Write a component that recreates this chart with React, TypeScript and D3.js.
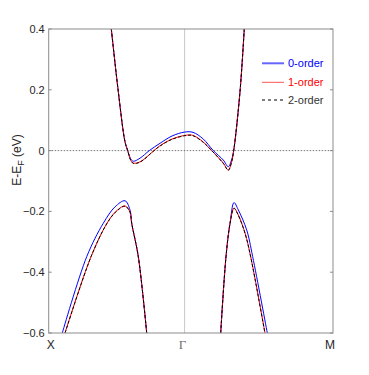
import React, { useRef, useEffect } from "react";
import * as d3 from "d3";

const width = 369;
const height = 375;
const margin = { top: 29, right: 36, bottom: 42, left: 48.7 };

// k along the path X-Γ-M (0..1), energies in eV
const kTicks = [0, 0.478, 1];
const kLabels = ["X", "Γ", "M"];
const yTicks = [-0.6, -0.4, -0.2, 0, 0.2, 0.4];
const seriesNames = ["0-order", "1-order", "2-order"];

// conduction band
const cond0 = [
  [0.2202, 0.4], [0.2448, 0.194], [0.2684, 0.029], [0.2779, 0.0], [0.2880, -0.026],
  [0.2976, -0.035], [0.3211, -0.025], [0.3538, 0.0], [0.3915, 0.024], [0.4337, 0.048],
  [0.4784, 0.061], [0.5076, 0.06], [0.5438, 0.038], [0.579, 0.0], [0.6141, -0.031],
  [0.6317, -0.053], [0.643, -0.031], [0.6507, 0.0], [0.6729, 0.194], [0.688, 0.402],
];
const cond1 = [
  [0.2202, 0.4], [0.2448, 0.194], [0.2684, 0.029], [0.2779, 0.0], [0.2880, -0.03],
  [0.2976, -0.041], [0.3211, -0.037], [0.3704, 0.0], [0.3915, 0.016], [0.4337, 0.038],
  [0.4854, 0.051], [0.5076, 0.05], [0.5438, 0.028], [0.5733, 0.0], [0.6141, -0.041],
  [0.6317, -0.064], [0.643, -0.038], [0.6507, 0.0], [0.6729, 0.194], [0.688, 0.402],
];
const cond2 = [
  [0.2202, 0.4], [0.2448, 0.194], [0.2684, 0.029], [0.2779, 0.0], [0.2880, -0.031],
  [0.2976, -0.042], [0.3211, -0.038], [0.3704, 0.0], [0.3915, 0.015], [0.4337, 0.037],
  [0.4854, 0.05], [0.5076, 0.049], [0.5438, 0.027], [0.5733, 0.0], [0.6141, -0.042],
  [0.6317, -0.065], [0.643, -0.039], [0.6507, 0.0], [0.6729, 0.194], [0.688, 0.402],
];

// left valence band
const valL0 = [
  [0.0478, -0.6], [0.1337, -0.349], [0.192, -0.239], [0.2332, -0.185], [0.2684, -0.165],
  [0.286, -0.195], [0.2919, -0.239], [0.3152, -0.349], [0.3447, -0.6],
];
const valL1 = [
  [0.0573, -0.6], [0.1488, -0.349], [0.2051, -0.239], [0.2367, -0.2], [0.2684, -0.182],
  [0.286, -0.202], [0.2919, -0.239], [0.3152, -0.349], [0.3447, -0.6],
];
const valL2 = [
  [0.0576, -0.6], [0.149, -0.349], [0.2053, -0.239], [0.2369, -0.201], [0.2684, -0.183],
  [0.286, -0.203], [0.2919, -0.239], [0.3152, -0.349], [0.3447, -0.6],
];

// right valence band
const valR0 = [
  [0.605, -0.6], [0.6236, -0.349], [0.6379, -0.239], [0.6518, -0.171], [0.6669, -0.195],
  [0.6964, -0.261], [0.7175, -0.349], [0.7689, -0.6],
];
const valR1 = [
  [0.605, -0.6], [0.6236, -0.349], [0.6379, -0.239], [0.6518, -0.189], [0.6655, -0.209],
  [0.6905, -0.271], [0.7105, -0.349], [0.7608, -0.6],
];
const valR2 = [
  [0.605, -0.6], [0.6236, -0.349], [0.6379, -0.239], [0.6518, -0.19], [0.6655, -0.21],
  [0.6905, -0.272], [0.7103, -0.349], [0.7605, -0.6],
];

const bands = [
  [cond0, valL0, valR0],
  [cond1, valL1, valR1],
  [cond2, valL2, valR2],
];
const colors = ["#0000ff", "#ff0000", "#000000"];
const dashes = [null, null, "3,2"];

const App = () => {
  const ref = useRef(null);

  useEffect(() => {
    const svg = d3.select(ref.current);
    svg.selectAll("*").remove();
    const x0 = margin.left;
    const x1 = width - margin.right;
    const y0 = margin.top;
    const y1 = height - margin.bottom;

    const x = d3.scaleLinear().domain([0, 1]).range([x0, x1]);
    const y = d3.scaleLinear().domain([-0.6, 0.4]).range([y1, y0]);

    svg.append("defs").append("clipPath").attr("id", "plotclip")
      .append("rect").attr("x", x0).attr("y", y0).attr("width", x1 - x0).attr("height", y1 - y0);

    // Γ line
    svg.append("line")
      .attr("x1", x(kTicks[1])).attr("x2", x(kTicks[1]))
      .attr("y1", y0).attr("y2", y1)
      .attr("stroke", "#c8c8c8").attr("stroke-width", 1);

    // zero line
    svg.append("line")
      .attr("x1", x0).attr("x2", x1)
      .attr("y1", y(0)).attr("y2", y(0))
      .attr("stroke", "#555").attr("stroke-width", 0.8)
      .attr("stroke-dasharray", "1.5,1.5");

    const line = d3.line()
      .x((d) => x(d[0]))
      .y((d) => y(d[1]))
      .curve(d3.curveCatmullRom.alpha(0.5));

    const g = svg.append("g").attr("clip-path", "url(#plotclip)");
    bands.forEach((set, i) => {
      set.forEach((b) => {
        const p = g.append("path")
          .attr("d", line(b))
          .attr("fill", "none")
          .attr("stroke", colors[i])
          .attr("stroke-width", 1);
        if (dashes[i]) p.attr("stroke-dasharray", dashes[i]);
      });
    });

    // box
    svg.append("rect")
      .attr("x", x0).attr("y", y0).attr("width", x1 - x0).attr("height", y1 - y0)
      .attr("fill", "none").attr("stroke", "#8c8c8c").attr("stroke-width", 1);

    // y ticks
    const yt = svg.append("g")
      .style("font-family", "Liberation Sans, Arial, sans-serif")
      .style("font-size", "11px");
    yTicks.forEach((t) => {
      yt.append("line").attr("x1", x0).attr("x2", x0 + 3)
        .attr("y1", y(t)).attr("y2", y(t)).attr("stroke", "#8c8c8c");
      yt.append("line").attr("x1", x1).attr("x2", x1 - 3)
        .attr("y1", y(t)).attr("y2", y(t)).attr("stroke", "#8c8c8c");
      yt.append("text")
        .attr("x", x0 - 4).attr("y", y(t) + 4)
        .attr("text-anchor", "end").attr("fill", "#262626")
        .text(t === 0 ? "0" : d3.format(".1f")(t));
    });

    // x ticks
    kTicks.forEach((t, i) => {
      svg.append("text")
        .attr("x", x(t) + (i === 0 ? 2 : i === 2 ? -3 : -2))
        .attr("y", y1 + 16)
        .attr("text-anchor", "middle")
        .attr("fill", i === 1 ? "#6e6e6e" : "#262626")
        .style("font-family", i === 1 ? "Liberation Serif, serif" : "Liberation Sans, Arial, sans-serif")
        .style("font-size", i === 1 ? "13px" : "12px")
        .text(kLabels[i]);
    });

    // y label
    const yl = svg.append("text")
      .attr("transform", `translate(21,160) rotate(-90)`)
      .attr("text-anchor", "middle")
      .attr("fill", "#262626")
      .style("font-family", "Liberation Sans, Arial, sans-serif")
      .style("font-size", "12px");
    yl.append("tspan").text("E-E");
    yl.append("tspan").attr("dy", 3).style("font-size", "9px").text("F");
    yl.append("tspan").attr("dy", -3).text(" (eV)");

    // legend
    const leg = svg.append("g")
      .style("font-family", "Liberation Sans, Arial, sans-serif")
      .style("font-size", "11px");
    const legY = [63.3, 82.3, 100];
    const legText = ["#0000ff", "#ff0000", "#333333"];
    const legStroke = ["#0000ff", "#ff5555", "#555555"];
    const legWidth = [2, 1, 1.5];
    seriesNames.forEach((n, i) => {
      const l = leg.append("line")
        .attr("x1", 262).attr("x2", 284)
        .attr("y1", legY[i]).attr("y2", legY[i])
        .attr("stroke", legStroke[i]).attr("stroke-width", legWidth[i])
        .attr("stroke-opacity", i === 0 ? 0.6 : 1);
      if (dashes[i]) l.attr("stroke-dasharray", "3,3");
      leg.append("text")
        .attr("x", 288).attr("y", legY[i] + 4)
        .attr("fill", legText[i])
        .text(n);
    });
  }, []);

  return <svg ref={ref} width={width} height={height} style={{ display: "block", position: "absolute", left: 0, top: 0 }} />;
};

export default App;
